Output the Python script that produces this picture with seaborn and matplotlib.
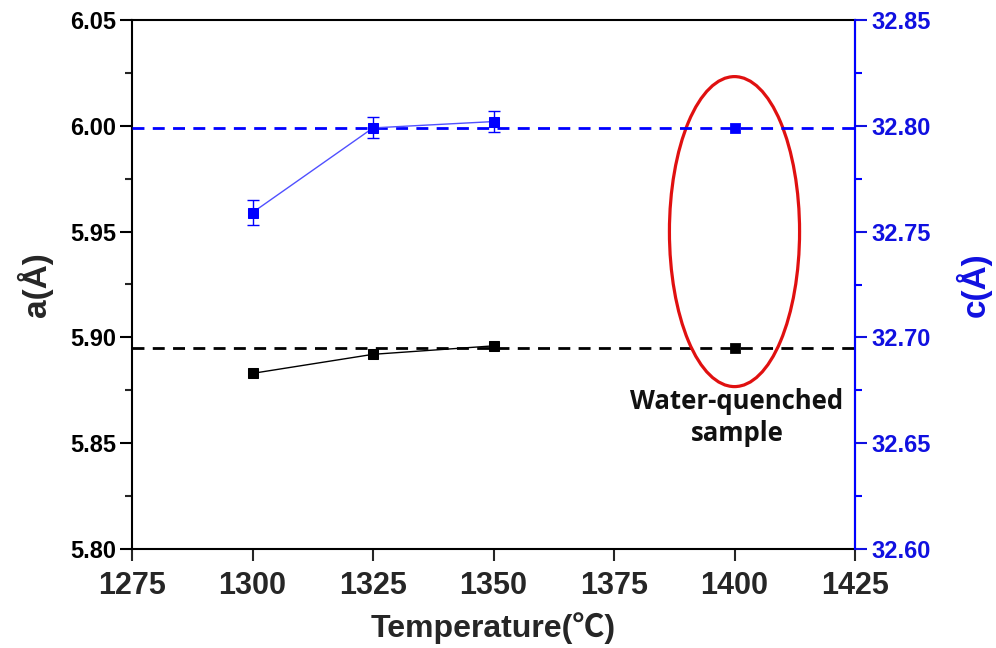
import matplotlib
matplotlib.use('Agg')
import matplotlib.pyplot as plt
import seaborn as sns
import pandas as pd
from matplotlib.patches import Ellipse
from matplotlib.ticker import MultipleLocator, FormatStrFormatter

# ---- data ----
temps = [1300, 1325, 1350]
a_vals = [5.883, 5.892, 5.896]
c_vals = [32.759, 32.799, 32.802]
c_err = [0.006, 0.005, 0.005]
wq_temp = [1400]
wq_a = [5.895]
wq_c = [32.799]
a_ref = 5.895
c_ref = 32.799
x_ticks = [1275, 1300, 1325, 1350, 1375, 1400, 1425]
a_ticks = [5.80, 5.85, 5.90, 5.95, 6.00, 6.05]
c_ticks = [32.60, 32.65, 32.70, 32.75, 32.80, 32.85]
note_text = "Water-quenched\nsample"

sns.set_style('ticks')
plt.rcParams['font.family'] = ['Liberation Sans', 'Noto Sans CJK KR', 'DejaVu Sans']

BLUE = '#0000ff'

fig = plt.figure(figsize=(9.96, 6.48), dpi=100)
ax = fig.add_axes([132/996, 1-549/648, (855-132)/996, (549-20)/648])
ax2 = ax.twinx()

df_a = pd.DataFrame({'T': temps, 'a': a_vals})
df_c = pd.DataFrame({'T': temps, 'c': c_vals})

ax.axhline(a_ref, color='black', ls=(0, (4.3, 3.0)), lw=2, zorder=1)
sns.lineplot(data=df_a, x='T', y='a', ax=ax, color='black', lw=1,
             marker='s', markersize=7, markeredgecolor='black', zorder=3)
sns.scatterplot(x=wq_temp, y=wq_a, ax=ax, marker='s', s=49, color='black',
                edgecolor='black', zorder=3)

ax2.axhline(c_ref, color=BLUE, ls=(0, (4.3, 3.0)), lw=2, zorder=1)
ax2.errorbar(temps, c_vals, yerr=c_err, fmt='none', ecolor=BLUE,
             elinewidth=1, capsize=4, capthick=1, zorder=2)
sns.lineplot(data=df_c, x='T', y='c', ax=ax2, color='#5050ff', lw=1,
             marker='s', markersize=7, markerfacecolor=BLUE,
             markeredgecolor=BLUE, zorder=3)
sns.scatterplot(x=wq_temp, y=wq_c, ax=ax2, marker='s', s=49, color=BLUE,
                edgecolor=BLUE, zorder=3)

ax.add_patch(Ellipse((1400, 5.950), 27, 0.1465, fill=False,
                     edgecolor='#e01010', lw=2.3, zorder=4))
ax.text(1400.5, 5.876, note_text, ha='center', va='top', fontsize=18.5,
        fontweight='bold', family=['Open Sans', 'DejaVu Sans'],
        color='#111111', linespacing=1.25)

# axes config
ax.set_xlim(1275, 1425)
ax.set_xticks(x_ticks)
ax.set_ylim(5.80, 6.05)
ax.set_yticks(a_ticks)
ax.yaxis.set_minor_locator(MultipleLocator(0.025))
ax.yaxis.set_major_formatter(FormatStrFormatter('%.2f'))
ax2.set_ylim(32.60, 32.85)
ax2.set_yticks(c_ticks)
ax2.yaxis.set_minor_locator(MultipleLocator(0.025))
ax2.yaxis.set_major_formatter(FormatStrFormatter('%.2f'))

ax.tick_params(axis='y', which='major', direction='out', length=8.5,
               width=1.5, labelsize=17, pad=3, colors='black')
ax.tick_params(axis='y', which='minor', direction='out', length=5, width=1.5)
ax.tick_params(axis='x', which='major', direction='out', length=8.5,
               width=1.5, labelsize=22, pad=7)
ax2.tick_params(axis='y', which='major', direction='out', length=8.5,
                width=1.5, labelsize=17, pad=3, colors='#1010e0')
ax2.tick_params(axis='y', which='minor', direction='out', length=5,
                width=1.5, colors=BLUE)
for lbl in ax.get_yticklabels() + ax2.get_yticklabels():
    lbl.set_fontweight('bold')
for lbl in ax.get_xticklabels():
    lbl.set_fontweight('bold')

for s in ['left', 'top', 'bottom', 'right']:
    ax.spines[s].set_linewidth(1.5)
    ax.spines[s].set_color('black')
for s in ['left', 'top', 'bottom']:
    ax2.spines[s].set_visible(False)
ax2.spines['right'].set_color(BLUE)
ax2.spines['right'].set_linewidth(1.5)

ax.set_xlabel('Temperature(℃)', fontsize=23, fontweight='bold', labelpad=8)
ax.set_ylabel('a(Å)', fontsize=24, fontweight='bold', labelpad=12)
ax2.set_ylabel('c(Å)', fontsize=24, fontweight='bold', color='#1010e0',
               labelpad=18)

fig.savefig('out.png', dpi=100, facecolor='white')
